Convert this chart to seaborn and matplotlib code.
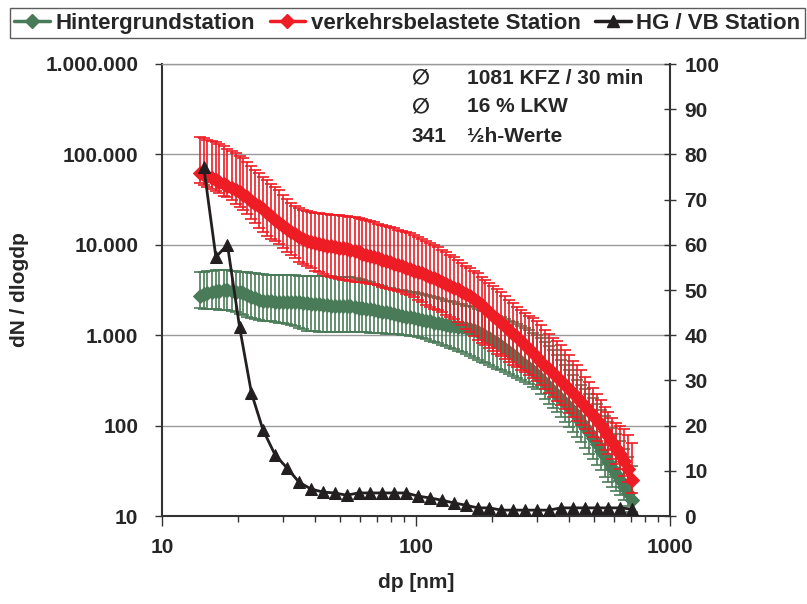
import numpy as np
import pandas as pd
import matplotlib
matplotlib.use("Agg")
import matplotlib.pyplot as plt
import seaborn as sns
from matplotlib.lines import Line2D
from matplotlib.ticker import FixedLocator, FixedFormatter, NullFormatter

# ---------------- data ----------------
dp = [14.1, 14.6, 15.1, 15.7, 16.3, 16.8, 17.5, 18.1, 18.8, 19.5,
      20.2, 20.9, 21.7, 22.5, 23.3, 24.1, 25.0, 25.9, 26.9, 27.9,
      28.9, 29.9, 31.1, 32.2, 33.4, 34.6, 35.9, 37.2, 38.5, 40.0,
      41.4, 42.9, 44.5, 46.1, 47.8, 49.6, 51.4, 53.3, 55.2, 57.3,
      59.4, 61.5, 63.8, 66.1, 68.5, 71.0, 73.7, 76.4, 79.1, 82.0,
      85.1, 88.2, 91.4, 94.7, 98.2, 101.8, 105.5, 109.4, 113.4, 117.6,
      121.9, 126.3, 131.0, 135.8, 140.7, 145.9, 151.2, 156.8, 162.5, 168.5,
      174.7, 181.1, 187.7, 194.6, 201.7, 209.1, 216.7, 224.7, 232.9, 241.4,
      250.3, 259.5, 269.0, 278.8, 289.0, 299.6, 310.6, 322.0, 333.8, 346.0,
      358.7, 371.8, 385.4, 399.5, 414.2, 429.4, 445.1, 461.4, 478.3, 495.8,
      514.0, 532.8, 552.3, 572.5, 593.5, 615.3, 637.8, 661.2, 685.4, 710.5]

vb_mean = [62300, 59900, 57600, 54800, 52100, 49500, 47000, 44800, 42500, 40400,
           37900, 35600, 33400, 30900, 28600, 26900, 24600, 22500, 20600, 18800,
           17400, 16200, 15000, 13900, 13000, 12200, 11600, 11150, 10700, 10500,
           10200, 9950, 9700, 9580, 9450, 9330, 9220, 8990, 8760, 8540,
           8230, 7900, 7710, 7520, 7330, 7060, 6790, 6620, 6450, 6210,
           5980, 5760, 5540, 5400, 5190, 5000, 4820, 4640, 4410, 4250,
           4080, 3880, 3680, 3500, 3370, 3240, 3040, 2860, 2690, 2510,
           2330, 2160, 1970, 1810, 1650, 1510, 1380, 1270, 1140, 1040,
           955, 863, 779, 703, 635, 574, 506, 462, 423, 382,
           345, 311, 281, 254, 229, 205, 183, 163, 145, 131,
           115, 102, 87, 77, 66, 57, 49, 41, 33, 25]

vb_upper = [155700, 152000, 146000, 140600, 137000, 130200, 123800, 116200, 109100, 102400,
            96000, 90100, 82400, 74400, 67200, 62300, 56100, 52100, 47100, 43600,
            40400, 35600, 32100, 29000, 26900, 25600, 24300, 23700, 23100, 22500,
            22200, 21900, 21700, 21400, 21400, 21100, 20900, 20600, 20300, 20300,
            19800, 19300, 18800, 18300, 17900, 17200, 16600, 16200, 15800, 15200,
            14600, 14100, 13900, 13500, 12800, 12200, 11600, 11000, 10500, 9950,
            9450, 8870, 8320, 7810, 7330, 6790, 6310, 5830, 5470, 5130,
            4880, 4410, 4080, 3790, 3500, 3240, 3000, 2720, 2450, 2270,
            2060, 1900, 1760, 1630, 1550, 1430, 1300, 1140, 1030, 930,
            863, 779, 686, 604, 519, 468, 412, 345, 303, 261,
            223, 192, 160, 141, 121, 108, 99, 92, 79, 64]

vb_lower = [48300, 45900, 43600, 41400, 39400, 37000, 35100, 33400, 31300, 28600,
            26200, 24000, 21700, 19300, 17400, 15400, 13900, 12650, 11600, 10900,
            10200, 9220, 8430, 7710, 7060, 6450, 6060, 5760, 5470, 5190,
            4940, 4700, 4520, 4410, 4300, 4190, 4080, 4030, 3980, 3880,
            3880, 3880, 3780, 3730, 3680, 3550, 3410, 3320, 3240, 3160,
            3080, 3000, 2890, 2750, 2620, 2450, 2300, 2160, 2030, 1950,
            1880, 1790, 1690, 1610, 1510, 1400, 1300, 1180, 1090, 980,
            885, 820, 770, 720, 670, 627, 589, 546, 506, 474,
            444, 417, 391, 363, 337, 311, 281, 254, 229, 208,
            188, 169, 153, 137, 124, 112, 102, 92, 83, 75,
            67, 61, 54, 48, 43, 38, 33, 28, 24, 18]

hg_mean = [2720, 2830, 2940, 3010, 3080, 3120, 3160, 3160, 3120, 3040,
           2970, 2900, 2790, 2650, 2550, 2450, 2420, 2390, 2360, 2330,
           2330, 2330, 2330, 2330, 2300, 2300, 2270, 2270, 2240, 2210,
           2190, 2160, 2160, 2130, 2130, 2100, 2100, 2080, 2080, 2050,
           2020, 2000, 1970, 1950, 1900, 1850, 1810, 1790, 1760, 1720,
           1670, 1630, 1610, 1590, 1550, 1510, 1490, 1450, 1420, 1380,
           1360, 1330, 1300, 1280, 1270, 1230, 1220, 1200, 1170, 1130,
           1090, 1030, 980, 930, 870, 820, 760, 703, 650, 604,
           560, 510, 468, 429, 400, 363, 328, 296, 267, 242,
           218, 197, 178, 160, 145, 128, 111, 97, 84, 73,
           62, 53, 46, 40, 34, 29, 25, 21, 18, 15]

hg_upper = [5000, 5060, 5130, 5190, 5260, 5260, 5260, 5260, 5190, 5130,
            5060, 5000, 4940, 4880, 4820, 4760, 4700, 4640, 4640, 4640,
            4640, 4640, 4640, 4580, 4580, 4520, 4520, 4520, 4520, 4520,
            4520, 4520, 4520, 4520, 4460, 4460, 4410, 4410, 4350, 4300,
            4190, 4080, 3980, 3880, 3730, 3590, 3460, 3370, 3290, 3240,
            3200, 3160, 3120, 3040, 2970, 2900, 2830, 2750, 2690, 2620,
            2550, 2490, 2420, 2360, 2300, 2240, 2190, 2130, 2080, 2030,
            1970, 1900, 1830, 1760, 1690, 1630, 1570, 1510, 1450, 1400,
            1330, 1270, 1200, 1140, 1070, 1005, 930, 842, 760, 686,
            604, 532, 468, 412, 363, 319, 281, 254, 223, 201,
            173, 149, 128, 109, 94, 81, 67, 55, 45, 36]

hg_lower = [2000, 1970, 1970, 1950, 1950, 1920, 1900, 1900, 1850, 1810,
            1720, 1670, 1610, 1550, 1510, 1470, 1450, 1430, 1420, 1400,
            1380, 1360, 1330, 1300, 1250, 1200, 1160, 1127, 1113, 1099,
            1085, 1085, 1085, 1085, 1085, 1085, 1085, 1085, 1085, 1085,
            1085, 1085, 1085, 1071, 1071, 1057, 1057, 1044, 1031, 1031,
            1018, 1005, 1005, 992, 968, 944, 920, 897, 863, 842,
            810, 779, 750, 722, 695, 669, 644, 620, 589, 560,
            532, 506, 487, 468, 444, 428, 412, 391, 372, 354,
            337, 319, 303, 289, 270, 254, 223, 197, 175, 157,
            140, 124, 109, 97, 85, 75, 66, 57, 49, 43,
            37, 32, 27, 24, 21, 19, 17, 15, 13, 11]

dp_ratio = [14.6, 16.3, 18.1, 20.2, 22.5, 25.0, 27.9, 31.1, 34.6, 38.5,
            42.9, 47.8, 53.3, 59.4, 66.1, 73.7, 82.0, 91.4, 101.8, 113.4,
            126.3, 140.7, 156.8, 174.7, 194.6, 216.7, 241.4, 269.0, 299.6, 333.8,
            371.8, 414.2, 461.4, 514.0, 572.5, 637.8, 710.5]
ratio = [77.2, 57.3, 60.0, 41.8, 27.2, 19.0, 13.5, 10.6, 7.5, 6.0,
         5.3, 5.1, 4.6, 5.1, 5.1, 5.1, 5.1, 5.1, 4.4, 4.0,
         3.5, 2.9, 2.4, 1.8, 1.8, 1.3, 1.3, 1.3, 1.3, 1.3,
         1.8, 1.8, 1.8, 1.8, 1.8, 1.8, 1.5]

series_names = ["Hintergrundstation", "verkehrsbelastete Station", "HG / VB Station"]
left_ticks = [10, 100, 1000, 10000, 100000, 1000000]
left_labels = ["10", "100", "1.000", "10.000", "100.000", "1.000.000"]
x_ticks = [10, 100, 1000]
x_labels = ["10", "100", "1000"]
right_ticks = [0, 10, 20, 30, 40, 50, 60, 70, 80, 90, 100]
info_lines = [("\u2205", "1081 KFZ / 30 min"), ("\u2205", "16 % LKW"), ("341", "\u00bdh-Werte")]

# ---------------- style ----------------
sns.set_theme(style="white")
plt.rcParams["font.family"] = ["Liberation Sans", "DejaVu Sans"]
plt.rcParams["font.weight"] = "bold"

GREEN = "#4A7B58"
RED = "#EE1C25"
BLACK = "#231F20"
FS = 15

df_hg = pd.DataFrame({"dp": dp, "mean": hg_mean, "up": hg_upper, "lo": hg_lower})
df_vb = pd.DataFrame({"dp": dp, "mean": vb_mean, "up": vb_upper, "lo": vb_lower})
df_r = pd.DataFrame({"dp": dp_ratio, "ratio": ratio})

fig = plt.figure(figsize=(8.07, 6.04), dpi=100)
ax = fig.add_axes([162 / 807, 1 - 516 / 604, (670 - 162) / 807, (516 - 64) / 604])
ax.set_xscale("log")
ax.set_yscale("log")

for df, col, z in ((df_hg, GREEN, 2), (df_vb, RED, 4)):
    ax.errorbar(df["dp"], df["mean"],
                yerr=[df["mean"] - df["lo"], df["up"] - df["mean"]],
                fmt="none", ecolor=col, elinewidth=1.2, capsize=4, capthick=1.2,
                zorder=z)
    sns.lineplot(data=df, x="dp", y="mean", ax=ax, color=col, lw=3,
                 marker="D", markersize=7.2, markeredgecolor=col,
                 estimator=None, sort=False, legend=False, zorder=z + 1)

ax.set_xlim(10, 1000)
ax.set_ylim(10, 1000000)
ax.yaxis.set_major_locator(FixedLocator(left_ticks))
ax.yaxis.set_major_formatter(FixedFormatter(left_labels))
ax.yaxis.set_minor_locator(FixedLocator([]))
ax.xaxis.set_major_locator(FixedLocator(x_ticks))
ax.xaxis.set_major_formatter(FixedFormatter(x_labels))
minor_x = [m * d for d in (10, 100) for m in range(2, 10)]
ax.xaxis.set_minor_locator(FixedLocator(minor_x))
ax.xaxis.set_minor_formatter(NullFormatter())
ax.grid(axis="y", which="major", color="#9A9A9A", lw=1)
ax.grid(axis="x", visible=False)
ax.set_axisbelow(True)
ax.tick_params(axis="y", which="major", direction="out", length=5, width=1,
               color="#333333", labelsize=FS, pad=12, left=True)
ax.tick_params(axis="x", which="major", direction="out", length=7, width=1,
               color="#333333", labelsize=FS, pad=9, bottom=True)
ax.tick_params(axis="x", which="minor", direction="out", length=4, width=1,
               color="#333333", bottom=True)
for s in ("left", "bottom"):
    ax.spines[s].set_color("#333333")
    ax.spines[s].set_linewidth(1.5)
ax.spines["top"].set_color("#9A9A9A")
ax.spines["top"].set_linewidth(1)
ax.spines["right"].set_visible(False)
ax.set_xlabel("dp [nm]", fontsize=FS, fontweight="bold", labelpad=11)
ax.set_ylabel("dN / dlogdp", fontsize=FS, fontweight="bold", labelpad=12)

ax2 = ax.twinx()
sns.lineplot(data=df_r, x="dp", y="ratio", ax=ax2, color=BLACK, lw=2,
             marker="^", markersize=9, markeredgecolor=BLACK,
             estimator=None, sort=False, legend=False)
ax2.set_ylim(0, 100)
ax2.set_xlim(10, 1000)
ax2.yaxis.set_major_locator(FixedLocator(right_ticks))
ax2.tick_params(axis="y", direction="inout", length=9, width=1, color="#333333",
                labelsize=FS, pad=6, right=True)
ax2.set_ylabel("")
ax2.grid(False)
for s in ("left", "bottom", "top"):
    ax2.spines[s].set_visible(False)
ax2.spines["right"].set_color("#333333")
ax2.spines["right"].set_linewidth(1.5)

# info text
ys = [78, 107, 137]
for (a, b), yy in zip(info_lines, ys):
    fig.text(412 / 807, 1 - yy / 604, a, fontsize=FS, fontweight="bold",
             va="center", ha="left")
    fig.text(467 / 807, 1 - yy / 604, b, fontsize=FS, fontweight="bold",
             va="center", ha="left")

# legend
handles = [Line2D([], [], color=GREEN, lw=2.5, marker="D", markersize=7),
           Line2D([], [], color=RED, lw=2.5, marker="D", markersize=7),
           Line2D([], [], color=BLACK, lw=2.5, marker="^", markersize=8)]
leg = fig.legend(handles, series_names, loc="lower left",
                 bbox_to_anchor=(10 / 807, 1 - 38 / 604, 795 / 807, 35 / 604),
                 mode="expand", ncol=3, frameon=True, fancybox=False,
                 edgecolor="#333333", borderpad=0.2, handlelength=1.6,
                 handletextpad=0.25, columnspacing=0.3, borderaxespad=0,
                 numpoints=1, prop={"weight": "bold", "size": 16})
leg.get_frame().set_linewidth(1)

fig.savefig("out.png", dpi=100)
